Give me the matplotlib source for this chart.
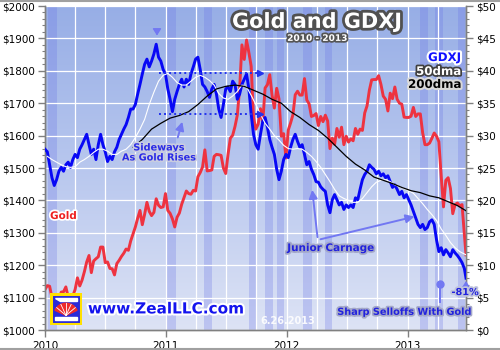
import numpy as np
import pandas as pd
import matplotlib
matplotlib.use('Agg')
import matplotlib.pyplot as plt
import matplotlib.patheffects as pe
from matplotlib.colors import LinearSegmentedColormap
from matplotlib.patches import Rectangle, Wedge, Polygon
from matplotlib.lines import Line2D
from matplotlib.ticker import MultipleLocator, FuncFormatter

# ---------------- data ----------------
week_dates = list(pd.date_range('2010-01-01', periods=182, freq='7D')) + [pd.Timestamp('2013-06-26')]

gold = [1125, 1137, 1135, 1100, 1085, 1065, 1092, 1117, 1118, 1133, 1102, 1107, 1105, 1125, 1161, 1136,
        1154, 1180, 1210, 1230, 1177, 1213, 1220, 1226, 1256, 1256, 1208, 1210, 1190, 1189, 1170, 1205,
        1215, 1227, 1237, 1250, 1246, 1275, 1296, 1318, 1345, 1369, 1325, 1357, 1394, 1366, 1353, 1363,
        1405, 1385, 1378, 1380, 1421,
        1369, 1360, 1343, 1318, 1348, 1361, 1388, 1409, 1429, 1421, 1419, 1431, 1429, 1473, 1486, 1503,
        1556, 1491, 1492, 1494, 1536, 1542, 1541, 1539, 1500, 1483, 1542, 1592, 1601, 1628, 1663, 1744,
        1880, 1835, 1895, 1856, 1814, 1656, 1620, 1635, 1683, 1642, 1747, 1757, 1788, 1725, 1685, 1746,
        1713, 1598, 1606, 1531,
        1617, 1639, 1664, 1726, 1737, 1725, 1725, 1776, 1710, 1698, 1659, 1662, 1668, 1631, 1659, 1643,
        1663, 1645, 1560, 1592, 1573, 1622, 1595, 1626, 1572, 1598, 1580, 1590, 1584, 1622, 1604, 1620,
        1616, 1670, 1692, 1740, 1772, 1773, 1773, 1785, 1758, 1722, 1712, 1676, 1731, 1714, 1750, 1712,
        1700, 1697, 1657, 1656,
        1656, 1660, 1687, 1659, 1667, 1667, 1609, 1572, 1572, 1577, 1592, 1608, 1598, 1581, 1476, 1380,
        1462, 1470, 1437, 1359, 1387, 1392, 1383, 1387, 1297,
        1232]

gdxj = [27.9, 27.5, 25.5, 23.5, 22.3, 23.2, 24.5, 25.1, 24.5, 25.5, 25.9, 25.1, 26.3, 27.1, 26.6, 27.9,
        28.6, 29.4, 30.2, 28.6, 27.1, 27.9, 26.3, 28.6, 30.2, 28.6, 27.5, 26.0, 26.8, 26.3, 27.5, 28.2,
        29.4, 30.2, 31.0, 31.7, 32.8, 34.1, 34.1, 34.8, 36.4, 37.9, 39.5, 41.0, 41.8, 40.6, 41.5, 42.6,
        44.1, 42.1, 41.5, 40.2, 39.5,
        37.2, 35.6, 33.7, 35.6, 36.8, 37.9, 38.7, 37.5, 38.7, 37.9, 39.5, 40.6, 41.8, 42.1, 40.2, 37.9,
        37.5, 36.8, 35.9, 37.2, 37.9, 36.4, 34.1, 32.8, 34.8, 37.2, 37.5, 36.8, 38.4, 37.9, 35.6, 36.4,
        37.9, 38.7, 39.5, 37.2, 33.3, 30.2, 28.6, 27.9, 30.2, 32.2, 32.8, 31.3, 29.4, 28.2, 27.1, 24.8,
        23.2, 24.5, 26.3, 27.1,
        26.6, 28.2, 29.4, 30.2, 29.1, 28.2, 28.6, 27.1, 25.5, 26.0, 24.8, 24.0, 22.9, 22.8, 22.1, 21.7,
        21.4, 19.3, 18.1, 20.1, 20.9, 20.1, 19.3, 19.7, 18.6, 19.3, 18.9, 19.3, 18.9, 20.4, 20.1, 21.7,
        23.2, 24.0, 24.5, 25.5, 25.1, 24.8, 24.1, 24.5, 23.8, 24.1, 23.5, 23.8, 22.9, 22.0, 22.4, 21.7,
        20.9, 21.4, 20.4, 20.9,
        20.1, 19.3, 18.3, 17.3, 16.3, 15.8, 16.3, 15.5, 15.8, 16.7, 17.0, 16.3, 13.9, 12.1, 12.7, 11.6,
        12.4, 11.9, 11.3, 12.4, 11.9, 11.5, 11.0, 10.4, 9.5,
        8.0]

ma50_dates = list(pd.date_range('2010-01-08', periods=90, freq='14D')) + [pd.Timestamp('2013-06-26')]
ma50 = [26.8, 26.3, 25.9, 25.5, 25.2, 25.1, 25.2, 25.9, 26.3, 26.8,
        27.4, 27.9, 27.9, 27.6, 27.1, 27.1, 27.6, 27.9, 28.6, 29.7,
        31.0, 32.5, 34.8, 36.7, 38.4, 39.3, 39.6, 39.0, 38.2, 37.8,
        37.8, 38.4, 39.0, 39.3, 39.0, 38.5, 37.8, 36.5, 35.8, 35.6,
        36.1, 36.8, 37.8, 37.5, 36.2, 34.8, 33.3, 31.9, 31.0, 30.0,
        29.3, 28.5, 28.0, 27.9, 28.0, 27.9, 27.4, 26.8, 26.0, 25.1,
        24.0, 22.9, 21.7, 20.7, 20.3, 20.0, 19.7, 19.7, 20.3, 21.2,
        22.1, 22.8, 23.1, 23.2, 22.9, 22.4, 22.1, 21.8, 21.5, 21.1,
        20.3, 19.5, 18.6, 17.8, 16.9, 15.6, 14.6, 13.5, 12.7, 12.1,
        11.6]

ma200_dates = list(pd.date_range('2010-09-24', periods=36, freq='28D')) + [pd.Timestamp('2013-06-26')]
ma200 = [28.2, 29.4, 31.0, 31.9, 32.7, 33.1, 33.7, 34.8, 36.1, 37.2, 37.6, 37.8, 37.6, 37.0, 36.4,
         35.6, 35.0, 33.7, 32.8, 31.7, 30.8, 29.6, 28.2, 26.8, 25.6, 24.7, 23.6, 23.1, 22.6, 22.0,
         21.5, 21.2, 20.7, 20.4, 19.8, 19.2, 18.4]

band_starts = ['2010-01-10', '2011-01-04', '2011-04-26', '2011-09-09', '2011-10-27', '2011-12-03',
               '2012-02-19', '2012-04-26', '2013-02-07', '2013-03-24', '2013-06-01']
band_ends = ['2010-02-06', '2011-01-31', '2011-05-20', '2011-10-03', '2011-11-20', '2011-12-24',
             '2012-03-17', '2012-05-17', '2013-03-03', '2013-04-17', '2013-06-22']

year_ticks = ['2010-01-01', '2011-01-01', '2012-01-01', '2013-01-01']
year_labels = ['2010', '2011', '2012', '2013']

# ---------------- figure ----------------
fig = plt.figure(figsize=(5, 3.5), dpi=100)
fig.patch.set_facecolor('white')
pos = [45 / 500, 20 / 350, 421 / 500, 324 / 350]

bg = fig.add_axes(pos, zorder=0)
cmap = LinearSegmentedColormap.from_list('bg', ['#97aee6', '#b8c7ee', '#dde3f5'])
bg.imshow(np.linspace(0, 1, 256).reshape(-1, 1), aspect='auto', cmap=cmap,
          extent=[0, 1, 0, 1], origin='upper')
bg.set_axis_off()

ax = fig.add_axes(pos, zorder=1)
ax.patch.set_alpha(0)
ax2 = ax.twinx()
ax2.patch.set_alpha(0)

x0 = pd.Timestamp('2010-01-01')
x1 = pd.Timestamp('2013-06-26')

# bands
for s, e in zip(band_starts, band_ends):
    ax.axvspan(pd.Timestamp(s), pd.Timestamp(e), color='#6a74e6', alpha=0.28, lw=0, zorder=0.5)

# grid
for yv in range(1000, 2001, 100):
    ax.axhline(yv, color='white', lw=0.9, zorder=1)
for q in pd.date_range('2010-04-01', '2013-04-01', freq='QS'):
    ax.axvline(q, color='white', lw=0.9, zorder=1)

# series
ax.plot(week_dates, gold, color='#ee3340', lw=2.1, zorder=3, solid_joinstyle='round')
ax2.plot(week_dates, gdxj, color='#0808f5', lw=2.1, zorder=3, solid_joinstyle='round')
ax2.plot(ma50_dates, ma50, color='white', lw=0.8, zorder=4)
ax2.plot(ma200_dates, ma200, color='black', lw=0.9, zorder=5)

# axes limits / ticks
ax.set_xlim(x0, x1)
ax.set_ylim(1000, 2000)
ax2.set_ylim(0, 50)
ax.set_xticks([pd.Timestamp(t) for t in year_ticks])
ax.set_xticklabels(year_labels)
ax.yaxis.set_major_locator(MultipleLocator(100))
ax.yaxis.set_minor_locator(MultipleLocator(20))
ax2.yaxis.set_major_locator(MultipleLocator(5))
ax2.yaxis.set_minor_locator(MultipleLocator(1))
ax.yaxis.set_major_formatter(FuncFormatter(lambda v, p: '$%d' % v))
ax2.yaxis.set_major_formatter(FuncFormatter(lambda v, p: '$%d' % v))
for a in (ax, ax2):
    a.tick_params(axis='both', which='major', length=5, width=1, color='#808080',
                  labelsize=7.5, labelcolor='black', pad=2)
    a.tick_params(axis='y', which='minor', length=2.5, width=0.8, color='#808080')
    for sp in a.spines.values():
        sp.set_color('#808080')
        sp.set_linewidth(1)
    a.spines['top'].set_visible(False)
ax.tick_params(axis='x', pad=3)

# ---------------- annotations ----------------
def stroke(c, w):
    return [pe.withStroke(linewidth=w, foreground=c)]

T = ax2.transAxes
ax2.text(0.646, 0.951, 'Gold and GDXJ', transform=T, ha='center', va='center', color='white',
         fontsize=15, fontweight='bold', path_effects=stroke('#505050', 4), zorder=10)
ax2.text(0.646, 0.900, '2010 - 2013', transform=T, ha='center', va='center', color='white',
         fontsize=6.5, fontweight='bold', path_effects=stroke('#555555', 2.5), zorder=10)
ax2.text(0.988, 0.841, 'GDXJ', transform=T, ha='right', va='center', color='#1010ff',
         fontsize=8.5, fontweight='bold', path_effects=stroke('white', 3), zorder=10)
ax2.text(0.988, 0.798, '50dma', transform=T, ha='right', va='center', color='white',
         fontsize=8.5, fontweight='bold', path_effects=stroke('#404040', 2.5), zorder=10)
ax2.text(0.988, 0.758, '200dma', transform=T, ha='right', va='center', color='black',
         fontsize=8.5, fontweight='bold', path_effects=stroke('#d8d8d8', 3), zorder=10)
ax2.text(0.012, 0.352, 'Gold', transform=T, ha='left', va='center', color='#ee2020',
         fontsize=7.5, fontweight='bold', path_effects=stroke('white', 2.5), zorder=10)
ax2.text(0.271, 0.548, 'Sideways\nAs Gold Rises', transform=T, ha='center', va='center',
         color='#2a2ae6', fontsize=7, fontweight='bold', linespacing=1.0,
         path_effects=stroke('#c8cce0', 2.5), zorder=10)
ax2.text(0.679, 0.253, 'Junior Carnage', transform=T, ha='center', va='center', color='#2222dd',
         fontsize=7.5, fontweight='bold', path_effects=stroke('#a4a8c8', 2.5), zorder=10)
ax2.text(0.855, 0.056, 'Sharp Selloffs With Gold', transform=T, ha='center', va='center',
         color='#2222dd', fontsize=7, fontweight='bold', path_effects=stroke('#a4a8c8', 2.5), zorder=10)
ax2.text(0.998, 0.117, '-81%', transform=T, ha='center', va='center', color='#2222dd',
         fontsize=7, fontweight='bold', path_effects=stroke('#c0c4dc', 2.5), zorder=10)
ax2.text(0.577, 0.028, '6.26.2013', transform=T, ha='center', va='center', color='white',
         fontsize=7, fontweight='bold', alpha=0.9, zorder=10)
ax2.text(0.102, 0.065, 'www.ZealLLC.com', transform=T, ha='left', va='center', color='#1414ee',
         fontsize=11, fontweight='bold', path_effects=stroke('white', 3), zorder=10)

arrow_c = '#7278f2'
aprops = dict(arrowstyle='-|>,head_length=0.5,head_width=0.25', color=arrow_c, lw=1.4)
ax2.annotate('', xy=(0.328, 0.651), xytext=(0.3135, 0.586), xycoords=T, textcoords=T,
             arrowprops=aprops, zorder=9)
ax2.annotate('', xy=(0.634, 0.441), xytext=(0.648, 0.278), xycoords=T, textcoords=T,
             arrowprops=aprops, zorder=9)
ax2.annotate('', xy=(0.884, 0.352), xytext=(0.648, 0.278), xycoords=T, textcoords=T,
             arrowprops=aprops, zorder=9)
ax2.annotate('', xy=(0.266, 0.900), xytext=(0.266, 0.930), xycoords=T, textcoords=T,
             arrowprops=dict(arrowstyle='-|>,head_length=0.4,head_width=0.25', color=arrow_c, lw=1.0),
             zorder=9)
ax2.annotate('', xy=(1.0, 0.160), xytext=(1.0, 0.133), xycoords=T, textcoords=T,
             arrowprops=dict(arrowstyle='-|>,head_length=0.4,head_width=0.25', color=arrow_c, lw=1.0),
             zorder=9)
ax2.add_line(Line2D([0.938, 0.938], [0.086, 0.142], transform=T, color=arrow_c, lw=1.4, zorder=9))
ax2.plot([0.938], [0.142], 'o', transform=T, color=arrow_c, ms=5, zorder=9)

# dotted range lines
dot_c = '#2233ee'
for yv in (39.7, 33.3):
    ax2.plot([pd.Timestamp('2010-12-12'), pd.Timestamp('2011-10-08')], [yv, yv], color=dot_c,
             lw=1.4, linestyle=(0, (1, 1.6)), zorder=6)
    ax2.plot([pd.Timestamp('2011-10-12')], [yv], marker='>', color=dot_c, ms=5, zorder=6)

# logo
lax = fig.add_axes([50 / 500, (350 - 325) / 350, 32 / 500, 32 / 350], zorder=5)
lax.set_xlim(0, 1)
lax.set_ylim(0, 1)
lax.set_axis_off()
lax.add_patch(Rectangle((0.04, 0.04), 0.92, 0.92, facecolor='#2a2ad8', edgecolor='#ffe000', lw=2.2))
lax.add_patch(Polygon([[0.15, 0.85], [0.85, 0.85], [0.85, 0.75], [0.3, 0.75]], color='white'))
lax.add_patch(Polygon([[0.15, 0.25], [0.85, 0.25], [0.85, 0.15], [0.15, 0.15]], color='white'))
lax.add_patch(Wedge((0.5, 0.3), 0.38, 25, 155, color='#ee2a2a'))
for ang in np.deg2rad([40, 65, 90, 115, 140]):
    lax.plot([0.5, 0.5 + 0.38 * np.cos(ang)], [0.3, 0.3 + 0.38 * np.sin(ang)], color='white', lw=0.6)

# figure border lines
fig.add_artist(Line2D([0, 1], [0.997, 0.997], transform=fig.transFigure, color='#a0a0a0', lw=1.5))
fig.add_artist(Line2D([0, 1], [0.003, 0.003], transform=fig.transFigure, color='#a0a0a0', lw=1.5))

fig.savefig('out.png', dpi=100, facecolor='white')
